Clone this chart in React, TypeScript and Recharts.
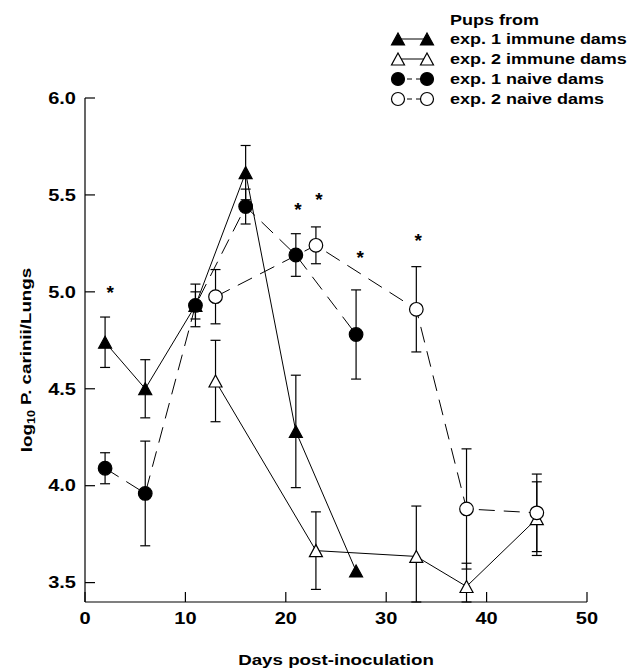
import React from 'react';
import { ComposedChart, Line, Scatter, XAxis, YAxis, ErrorBar } from 'recharts';

// ---- data ----
const daysExp1 = [2, 6, 11, 16, 21, 27];
const daysExp2 = [13, 23, 33, 38, 45];

const exp1ImmuneMean = [4.74, 4.5, 4.93, 5.615, 4.28, 3.56];
const exp1ImmuneErr = [0.13, 0.15, 0.07, 0.14, 0.29, null];
const exp2ImmuneMean = [4.54, 3.665, 3.635, 3.48, 3.83];
// [below, above]; the lower bars at day 33 and 38 run down to the axis
const exp2ImmuneErr = [0.21, 0.2, [0.235, 0.26], [0.08, 0.12], 0.19];
const exp1NaiveMean = [4.09, 3.96, 4.93, 5.44, 5.19, 4.78];
const exp1NaiveErr = [0.08, 0.27, 0.11, 0.09, 0.11, 0.23];
const exp2NaiveMean = [4.975, 5.24, 4.91, 3.88, 3.86];
const exp2NaiveErr = [0.14, 0.095, 0.22, 0.31, 0.2];

const asteriskDays = [2.5, 21.2, 23.3, 27.4, 33.2];
const asteriskLevels = [5.02, 5.45, 5.5, 5.2, 5.29];

const xTicks = [0, 10, 20, 30, 40, 50];
const yTicks = [3.5, 4.0, 4.5, 5.0, 5.5, 6.0];

const legendTitle = 'Pups from';
const seriesNames = ['exp. 1 immune dams', 'exp. 2 immune dams', 'exp. 1 naive dams', 'exp. 2 naive dams'];
const xTitle = 'Days post-inoculation';

const build = (days: number[], means: number[], errs: any[]) =>
  days.map((d, i) => ({ day: d, mean: means[i], err: errs[i] }));

const exp1Immune = build(daysExp1, exp1ImmuneMean, exp1ImmuneErr);
const exp2Immune = build(daysExp2, exp2ImmuneMean, exp2ImmuneErr);
const exp1Naive = build(daysExp1, exp1NaiveMean, exp1NaiveErr);
const exp2Naive = build(daysExp2, exp2NaiveMean, exp2NaiveErr);
const asterisks = asteriskDays.map((d, i) => ({ day: d, level: asteriskLevels[i] }));

const FONT = '"Liberation Sans", Arial, Helvetica, sans-serif';
const SX = 1.25; // horizontal stretch of the scanned lettering

const triPoints = (cx: number, cy: number, w = 13, h = 12) =>
  `${cx},${cy - h / 2} ${cx + w / 2},${cy + h / 2} ${cx - w / 2},${cy + h / 2}`;

const makeDot = (kind: 'tri' | 'circle', filled: boolean) => (props: any) => {
  const { cx, cy, index } = props;
  if (cx == null || cy == null) return <g key={`d-${index}`} />;
  if (kind === 'tri') {
    return (
      <polygon key={`d-${index}`} points={triPoints(cx, cy)} fill={filled ? '#000' : '#fff'} stroke="#000" strokeWidth={1.2} />
    );
  }
  return <circle key={`d-${index}`} cx={cx} cy={cy} r={6.8} fill={filled ? '#000' : '#fff'} stroke="#000" strokeWidth={1.2} />;
};

const SText = (p: { x: number; y: number; anchor?: string; size?: number; dy?: string; children: any; scale?: number }) => (
  <text
    transform={`translate(${p.x},${p.y}) scale(${p.scale ?? SX},1)`}
    x={0}
    y={0}
    dy={p.dy ?? '0.36em'}
    textAnchor={p.anchor ?? 'start'}
    fontFamily={FONT}
    fontWeight="bold"
    fontSize={p.size ?? 15}
    fill="#000"
  >
    {p.children}
  </text>
);

const YTick = (props: any) => {
  const { x, y, payload } = props;
  return (
    <g>
      <line x1={x + 9} x2={x + 19} y1={y} y2={y} stroke="#000" strokeWidth={1.2} />
      <SText x={x} y={y} anchor="end" size={16}>
        {Number(payload.value).toFixed(1)}
      </SText>
    </g>
  );
};

const XTick = (props: any) => {
  const { x, y, payload } = props;
  return (
    <g>
      <line x1={x} x2={x} y1={y - 10} y2={y - 20} stroke="#000" strokeWidth={1.2} />
      <SText x={x} y={y} anchor="middle" size={16} dy="0.72em">
        {payload.value}
      </SText>
    </g>
  );
};

const YTitle = (props: any) => {
  const vb = props.viewBox || {};
  const cx = (vb.x ?? 0) + 19;
  const cy = (vb.y ?? 0) + (vb.height ?? 0) / 2 + 10;
  return (
    <text
      transform={`translate(${cx},${cy}) rotate(-90) scale(${SX},1)`}
      x={0}
      y={0}
      textAnchor="middle"
      dy="0.36em"
      fontFamily={FONT}
      fontWeight="bold"
      fontSize={15}
      fill="#000"
    >
      log
      <tspan fontSize={10} dy="0.3em">10</tspan>
      <tspan dy="-0.3em"> P. carinii/Lungs</tspan>
    </text>
  );
};

const XTitle = (props: any) => {
  const vb = props.viewBox || {};
  const cx = (vb.x ?? 0) + (vb.width ?? 0) / 2;
  const cy = (vb.y ?? 0) + 58;
  return (
    <SText x={cx} y={cy} anchor="middle" size={15}>
      {xTitle}
    </SText>
  );
};

const Asterisk = (props: any) => {
  const { cx, cy } = props;
  return (
    <text x={cx} y={cy + 11} textAnchor="middle" fontFamily={FONT} fontWeight="bold" fontSize={19} fill="#000">
      *
    </text>
  );
};

const LegendBox = () => {
  const rows = [
    { kind: 'tri', filled: true, dash: undefined },
    { kind: 'tri', filled: false, dash: undefined },
    { kind: 'circle', filled: true, dash: '5 4' },
    { kind: 'circle', filled: false, dash: '5 4' },
  ];
  return (
    <svg width={260} height={110} style={{ position: 'absolute', left: 372, top: 0, display: 'block' }}>
      <SText x={70} y={12} scale={1.2}>{legendTitle}</SText>
      {rows.map((r, i) => {
        const y = 31 + i * 20;
        return (
          <g key={i}>
            <line x1={18} x2={47} y1={y} y2={y} stroke="#000" strokeWidth={1} strokeDasharray={r.dash} />
            {r.kind === 'tri' ? (
              <>
                <polygon points={triPoints(18, y)} fill={r.filled ? '#000' : '#fff'} stroke="#000" strokeWidth={1.2} />
                <polygon points={triPoints(47, y)} fill={r.filled ? '#000' : '#fff'} stroke="#000" strokeWidth={1.2} />
              </>
            ) : (
              <>
                <circle cx={18} cy={y} r={6.5} fill={r.filled ? '#000' : '#fff'} stroke="#000" strokeWidth={1.2} />
                <circle cx={47} cy={y} r={6.5} fill={r.filled ? '#000' : '#fff'} stroke="#000" strokeWidth={1.2} />
              </>
            )}
            <SText x={70} y={y} scale={1.2}>{seriesNames[i]}</SText>
          </g>
        );
      })}
    </svg>
  );
};

export default function App() {
  return (
    <div style={{ position: 'relative', width: 632, height: 660 }}>
      <ComposedChart width={632} height={660} margin={{ top: 90, right: 53, bottom: 0, left: 0 }}>
        <XAxis
          dataKey="day"
          type="number"
          domain={[0, 50]}
          ticks={xTicks}
          allowDataOverflow
          tickSize={0}
          tickMargin={10}
          tickLine={false}
          tick={<XTick />}
          height={66}
          stroke="#000"
          strokeWidth={1.2}
          label={<XTitle />}
        />
        <YAxis
          type="number"
          domain={[3.4, 6.0]}
          ticks={yTicks}
          allowDataOverflow
          tickSize={0}
          tickMargin={9}
          tickLine={false}
          tick={<YTick />}
          width={77}
          stroke="#000"
          strokeWidth={1.2}
          label={<YTitle />}
        />
        <Line
          data={exp1Immune}
          dataKey="mean"
          name={seriesNames[0]}
          stroke="#000"
          strokeWidth={1}
          dot={makeDot('tri', true)}
          isAnimationActive={false}
        >
          <ErrorBar dataKey="err" width={5} stroke="#000" strokeWidth={1.2} direction="y" />
        </Line>
        <Line
          data={exp1Naive}
          dataKey="mean"
          name={seriesNames[2]}
          stroke="#000"
          strokeWidth={1}
          strokeDasharray="16 9"
          dot={makeDot('circle', true)}
          isAnimationActive={false}
        >
          <ErrorBar dataKey="err" width={5} stroke="#000" strokeWidth={1.2} direction="y" />
        </Line>
        <Line
          data={exp2Immune}
          dataKey="mean"
          name={seriesNames[1]}
          stroke="#000"
          strokeWidth={1}
          dot={makeDot('tri', false)}
          isAnimationActive={false}
        >
          <ErrorBar dataKey="err" width={5} stroke="#000" strokeWidth={1.2} direction="y" />
        </Line>
        <Line
          data={exp2Naive}
          dataKey="mean"
          name={seriesNames[3]}
          stroke="#000"
          strokeWidth={1}
          strokeDasharray="16 9"
          dot={makeDot('circle', false)}
          isAnimationActive={false}
        >
          <ErrorBar dataKey="err" width={5} stroke="#000" strokeWidth={1.2} direction="y" />
        </Line>
        <Scatter data={asterisks} dataKey="level" shape={<Asterisk />} isAnimationActive={false} legendType="none" />
      </ComposedChart>
      <LegendBox />
    </div>
  );
}
